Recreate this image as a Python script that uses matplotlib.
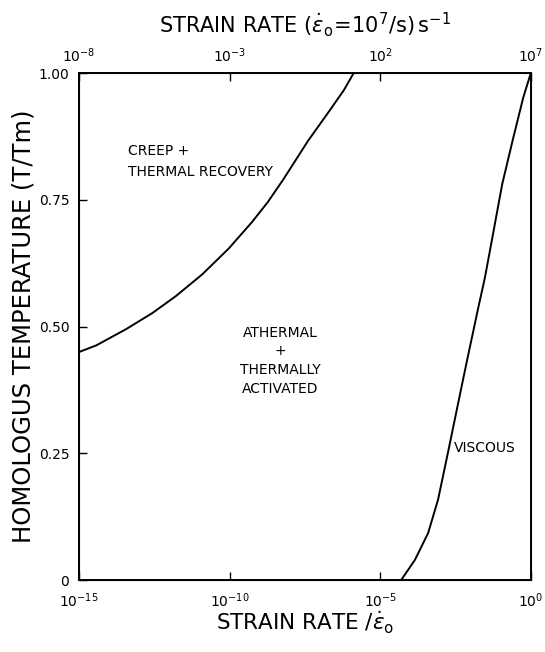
import matplotlib
matplotlib.use("Agg")
import matplotlib.pyplot as plt
import numpy as np

# Data (log10 of strain rate / eps0, homologous temperature)
creep_log_rate = [-15.0, -14.43, -13.44, -12.56, -11.79, -10.91, -10.03, -9.26, -8.74,
                  -8.22, -7.40, -6.68, -6.21, -5.88]
creep_T = [0.450, 0.463, 0.495, 0.527, 0.560, 0.603, 0.654, 0.706, 0.745,
           0.790, 0.866, 0.926, 0.966, 1.0]

viscous_log_rate = [-4.31, -3.85, -3.41, -3.08, -2.74, -2.41, -2.13, -1.75, -1.53,
                    -1.31, -0.95, -0.58, -0.25, 0.0]
viscous_T = [0.0, 0.040, 0.093, 0.159, 0.255, 0.350, 0.430, 0.536, 0.595,
             0.665, 0.781, 0.873, 0.952, 1.0]

bottom_ticks = [1e-15, 1e-10, 1e-5, 1e0]
bottom_labels = [r'$10^{-15}$', r'$10^{-10}$', r'$10^{-5}$', r'$10^{0}$']
top_ticks = [1e-8, 1e-3, 1e2, 1e7]
top_labels = [r'$10^{-8}$', r'$10^{-3}$', r'$10^{2}$', r'$10^{7}$']
y_ticks = [0, 0.25, 0.50, 0.75, 1.00]
y_labels = ['0', '0.25', '0.50', '0.75', '1.00']

plt.rcParams['font.family'] = ['DejaVu Sans']
plt.rcParams['mathtext.fontset'] = 'dejavusans'

fig = plt.figure(figsize=(5.45, 6.52), dpi=100)
ax = fig.add_axes([0.145, 0.110, 0.829, 0.778])

ax.plot(10 ** np.array(creep_log_rate), creep_T, color='black', lw=1.4)
ax.plot(10 ** np.array(viscous_log_rate), viscous_T, color='black', lw=1.4)

ax.set_xscale('log')
ax.set_xlim(1e-15, 1e0)
ax.set_ylim(0, 1.0)
ax.set_xticks(bottom_ticks)
ax.set_xticklabels(bottom_labels, fontsize=10)
ax.minorticks_off()
ax.set_yticks(y_ticks)
ax.set_yticklabels(y_labels, fontsize=10)
ax.tick_params(direction='in', length=6, width=1.0, right=False, top=False, pad=8)
ax.tick_params(axis='y', pad=7)

for s in ax.spines.values():
    s.set_linewidth(1.4)

ax2 = ax.twiny()
ax2.set_xscale('log')
ax2.set_xlim(1e-8, 1e7)
ax2.set_xticks(top_ticks)
ax2.set_xticklabels(top_labels, fontsize=10)
ax2.minorticks_off()
ax2.tick_params(direction='in', length=6, width=1.0, pad=6)

ax.set_xlabel(r'STRAIN RATE $/\dot{\varepsilon}_{\mathrm{o}}$', fontsize=15.5, labelpad=0)
ax.set_ylabel('HOMOLOGUS TEMPERATURE (T/Tm)', fontsize=17.5, labelpad=2)
ax2.set_xlabel(r'STRAIN RATE $(\dot{\varepsilon}_{\mathrm{o}}\!=\!10^{7}/\mathrm{s})\,\mathrm{s}^{-1}$', fontsize=15, labelpad=10)

ax.text(10 ** -13.38, 0.826, 'CREEP +\nTHERMAL RECOVERY', fontsize=10, ha='left', va='center', linespacing=1.6)
ax.text(10 ** -8.33, 0.433, 'ATHERMAL\n+\nTHERMALLY\nACTIVATED', fontsize=10, ha='center', va='center', linespacing=1.42)
ax.text(10 ** -2.55, 0.26, 'VISCOUS', fontsize=10, ha='left', va='center')

fig.savefig('out.png', dpi=100)
